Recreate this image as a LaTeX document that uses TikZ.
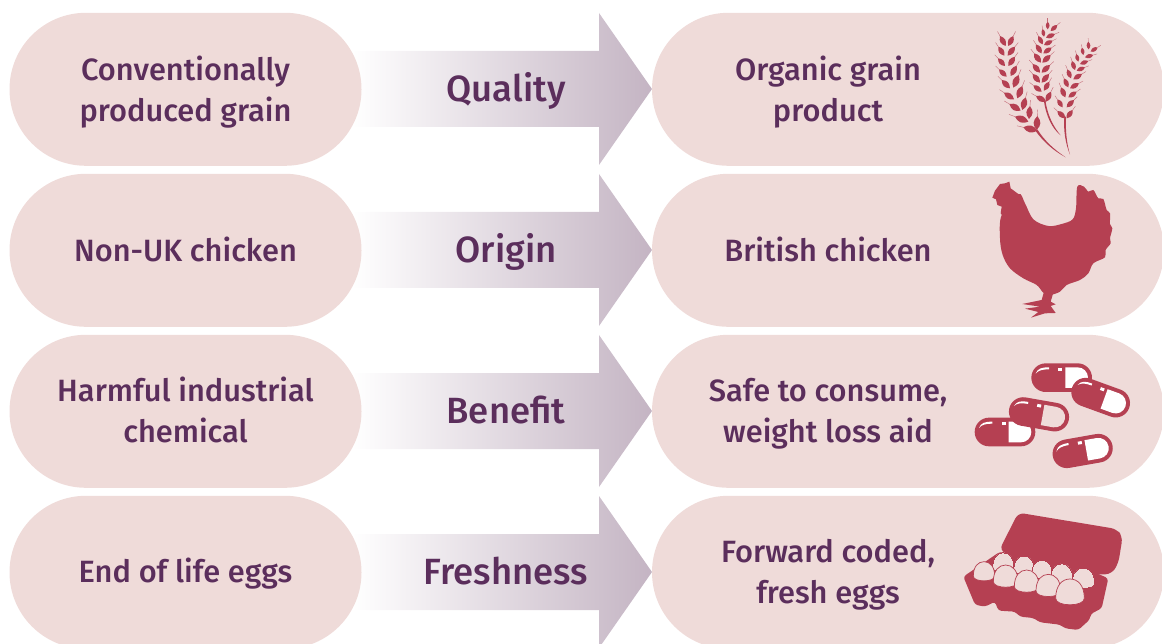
\documentclass[tikz,border=0pt]{standalone}
\usepackage{fontspec}
\setmainfont{Fira Sans Medium}
\usetikzlibrary{calc}
\definecolor{pillc}{HTML}{EFDBD9}
\definecolor{textc}{HTML}{5B2E5C}
\definecolor{arrowc}{HTML}{C4B4C3}
\definecolor{iconc}{HTML}{B54052}
\tikzset{
  x=1pt,y=-1pt,
  leftpill/.style={fill=pillc,rounded corners=76.4pt,minimum width=352pt,minimum height=153pt,inner sep=0pt},
  rightpill/.style={fill=pillc,rounded corners=76.4pt,minimum width=512pt,minimum height=153pt,inner sep=0pt},
  lab/.style={text=textc,align=center,anchor=base,font=\fontsize{30.8}{41}\selectfont,inner sep=0pt},
  arrowlab/.style={text=textc,align=center,anchor=base,font=\fontsize{36.5}{41}\selectfont,inner sep=0pt},
  icon/.style={x=.3333pt,y=-.3333pt},
}
\newcommand{\rowarrow}[1]{%
  \shade[left color=white,right color=arrowc,shading=axis,shading angle=90]
    (352,#1+38) -- (599,#1+38) -- (599,#1) -- (652,#1+76) -- (599,#1+152) -- (599,#1+114) -- (352,#1+114) -- cycle;}
\newcommand{\grain}[4]{%
  \coordinate (ga) at (#1,#2); \coordinate (gb) at (#3,#4);
  \fill[iconc] (ga) .. controls ($(ga)!.5!40:(gb)$) and ($(gb)!.5!-40:(ga)$) .. (gb)
     .. controls ($(gb)!.5!40:(ga)$) and ($(ga)!.5!-40:(gb)$) .. cycle;
  \draw[iconc!70!pillc,line width=.4pt] (gb) -- ($(ga)!1.45!(gb)$);}
\newcommand{\capsule}[4]{%
  \begin{scope}[shift={(#1,#2)},rotate=#3]
    \fill[iconc] (-48,-43) -- (48,-43) arc[start angle=90,end angle=-90,x radius=43,y radius=-43] -- (-48,43) arc[start angle=-90,end angle=-270,x radius=43,y radius=-43] -- cycle;
    \fill[#4] (11,-31) -- (48,-31) arc[start angle=90,end angle=-90,x radius=31,y radius=-31] -- (11,31) -- cycle;
    \fill[white] (-78,-12) .. controls (-72,-28) and (-60,-31) .. (-38,-31) -- (-38,-25) .. controls (-58,-25) and (-70,-22) .. cycle;
    \fill[white] (-10,-30) rectangle (2,-21);
  \end{scope}}
\newcommand{\eggshape}[4]{%
  \begin{scope}[shift={(#1,#2)},x=#3*.3333pt,y=-#3*.3333pt]
    \filldraw[fill=pillc,draw=iconc,line width=#4] (-1,.35) .. controls (-1,-.55) and (-.55,-1) .. (0,-1)
      .. controls (.55,-1) and (1,-.55) .. (1,.35) .. controls (1,.95) and (-1,.95) .. cycle;
  \end{scope}}
\begin{document}
\begin{tikzpicture}
\useasboundingbox (0,0) rectangle (1162,644);
\clip (0,0) rectangle (1162,644);
% arrows
\rowarrow{13}\rowarrow{174}\rowarrow{335}\rowarrow{496}
% left pills
\node[leftpill] (l1) at (185.5,89.3) {};
\node[leftpill] (l2) at (185.5,250.3) {};
\node[leftpill] (l3) at (185.5,411.3) {};
\node[leftpill] (l4) at (185.5,572.3) {};
% right pills
\node[rightpill] (r1) at (908,89.3) {};
\node[rightpill] (r2) at (908,250.3) {};
\node[rightpill] (r3) at (908,411.3) {};
\node[rightpill] (r4) at (908,572.3) {};
% left text
\node[lab] (lt1) at (185.5,121.5) {Conventionally\\produced grain};
\node[lab] (lt2) at (185.5,262) {Non-UK chicken};
\node[lab] (lt3) at (185.5,442.5) {Harmful industrial\\chemical};
\node[lab] (lt4) at (185.5,582.5) {End of life eggs};
% arrow text
\node[arrowlab] (a1) at (506,101.5) {Quality};
\node[arrowlab] (a2) at (506,262.5) {Origin};
\node[arrowlab] (a3) at (506,423) {Benefit};
\node[arrowlab] (a4) at (506,584) {Freshness};
% right text
\node[lab] (rt1) at (828,121.5) {Organic grain\\product};
\node[lab] (rt2) at (828,262) {British chicken};
\node[lab] (rt3) at (828,442.5) {Safe to consume,\\weight loss aid};
\node[lab] (rt4) at (828,603.5) {Forward coded,\\fresh eggs};
% wheat
\begin{scope}[shift={(960,0)},icon]
  \fill[iconc] (232,388) .. controls (255,425) and (285,450) .. (317,472) .. controls (280,452) and (250,425) .. (226,392) -- cycle;
  \fill[iconc] (256,300) .. controls (262,345) and (280,380) .. (302,406) .. controls (275,385) and (258,345) .. (252,305) -- cycle;
  \fill[iconc] (318,350) .. controls (316,390) and (320,430) .. (330,464) .. controls (316,430) and (310,390) .. (313,350) -- cycle;
  \grain{232}{392}{190}{382}\grain{205}{365}{165}{350}\grain{182}{332}{148}{312}\grain{162}{298}{132}{278}\grain{150}{265}{125}{240}\grain{140}{230}{117}{208}\grain{135}{198}{114}{175}\grain{133}{167}{115}{140}\grain{137}{138}{120}{108}
  \grain{230}{390}{232}{348}\grain{207}{357}{210}{318}\grain{187}{330}{197}{292}\grain{172}{295}{187}{258}\grain{160}{263}{176}{225}\grain{152}{228}{170}{197}\grain{145}{198}{165}{170}\grain{143}{167}{165}{140}\grain{145}{138}{160}{108}
  \grain{258}{305}{228}{288}\grain{245}{275}{220}{256}\grain{240}{248}{218}{222}\grain{240}{218}{218}{192}\grain{243}{188}{222}{160}\grain{245}{160}{228}{133}\grain{248}{133}{235}{108}\grain{252}{110}{248}{87}\grain{263}{88}{263}{65}
  \grain{258}{305}{273}{275}\grain{252}{272}{268}{245}\grain{245}{248}{267}{222}\grain{245}{218}{270}{195}\grain{247}{188}{272}{165}\grain{250}{160}{275}{143}\grain{252}{135}{278}{122}\grain{258}{113}{285}{102}\grain{272}{93}{292}{75}
  \grain{316}{355}{292}{333}\grain{308}{322}{292}{298}\grain{316}{292}{303}{262}\grain{325}{262}{312}{235}\grain{333}{235}{322}{208}\grain{345}{210}{336}{183}\grain{355}{185}{349}{162}\grain{370}{165}{366}{143}\grain{386}{148}{385}{125}
  \grain{320}{355}{338}{330}\grain{320}{322}{342}{300}\grain{325}{292}{350}{275}\grain{330}{265}{357}{250}\grain{340}{238}{366}{222}\grain{350}{212}{375}{202}\grain{360}{192}{385}{183}\grain{375}{172}{400}{165}\grain{392}{155}{413}{142}
\end{scope}
% chicken
\begin{scope}[shift={(960,170)},icon]
  \fill[iconc] plot[smooth cycle,tension=.55] coordinates {(125,135)(175,72)(195,100)(220,148)(265,168)(305,162)(338,148)(348,115)(352,50)(372,50)(385,65)(400,60)(415,85)(430,87)(440,120)(450,130)(450,162)(457,175)(450,205)(452,220)(437,240)(435,262)(400,280)(385,310)(360,330)(320,345)(300,365)(270,375)(250,368)(230,345)(190,325)(150,295)(128,255)(120,205)};
  \fill[iconc,line join=round] (97,83) -- (105,62) -- (120,42) -- (135,40) -- (148,35) -- (152,55) -- (175,72) -- (190,110) -- (130,140) -- (122,130) -- (125,110) -- (112,105) -- (108,88) -- cycle;
  \fill[iconc,line join=round] (252,365) -- (245,390) -- (187,402) -- (240,410) -- (195,416) -- (235,426) -- (213,443) -- (255,430) -- (287,429) -- (272,408) -- (287,403) -- (272,395) -- (280,368) -- cycle;
\end{scope}
% pills
\begin{scope}[shift={(960,350)},icon]
  \capsule{305}{83}{0}{white}
  \capsule{422}{143}{-20}{white}
  \capsule{135}{246}{0}{white}
  \capsule{237}{193}{-10}{pillc}
  \capsule{368}{303}{10}{white}
\end{scope}
% eggs
\begin{scope}[shift={(950,500)},icon]
  \fill[iconc,rounded corners=6pt] (205,38) -- (500,87) -- (518,110) -- (505,190) -- (485,222) -- (300,230) -- (148,150) -- cycle;
  \fill[iconc,rounded corners=3pt] (40,230) -- (75,314) -- (105,320) -- (135,305) -- (145,332) -- (195,335) -- (210,350) -- (250,354) -- (270,367) -- (330,374) -- (345,385) -- (385,390) -- (420,358) -- (422,342) -- (455,325) -- (475,235) -- (445,222) -- (150,155) -- cycle;
  \eggshape{160}{190}{32}{0pt}
  \eggshape{222}{199}{31}{0pt}
  \eggshape{276}{212}{31}{0pt}
  \eggshape{335}{224}{33}{0pt}
  \eggshape{400}{238}{34}{0pt}
  \eggshape{102}{217}{32}{.7pt}
  \eggshape{167}{232}{37}{.7pt}
  \eggshape{230}{247}{37}{.7pt}
  \eggshape{295}{260}{37}{.7pt}
  \eggshape{360}{280}{43}{.7pt}
\end{scope}
\end{tikzpicture}
\end{document}
